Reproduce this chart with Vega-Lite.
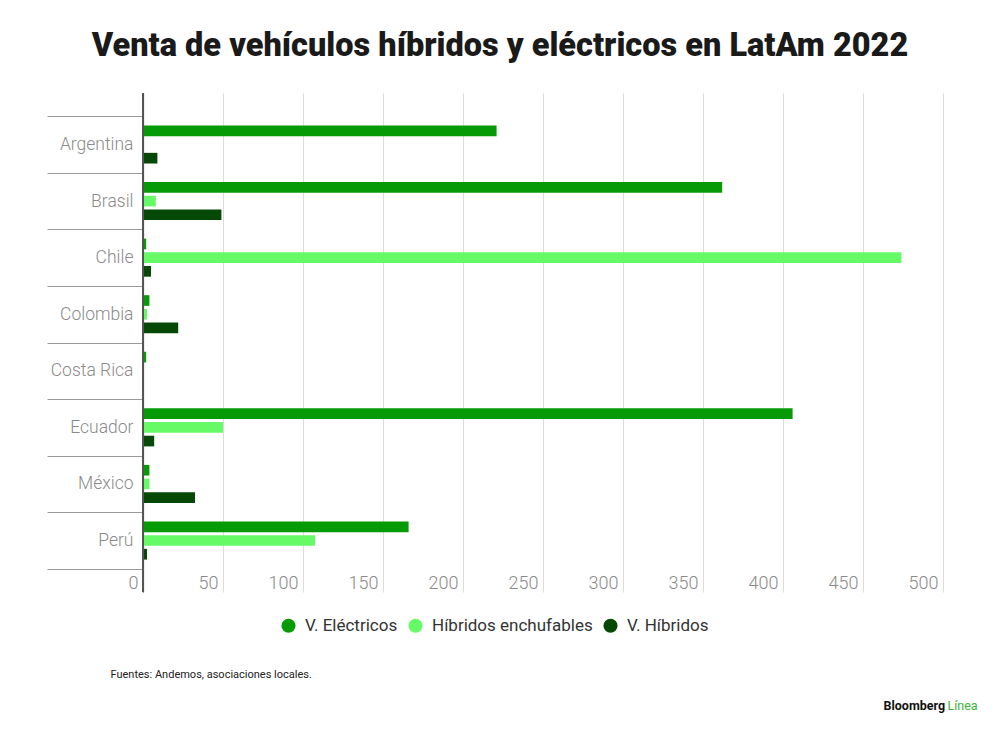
{
  "$schema": "https://vega.github.io/schema/vega-lite/v6.json",
  "autosize": "none",
  "width": 800,
  "height": 499,
  "padding": {"left": 143, "top": 93, "right": 57, "bottom": 142},
  "background": "white",
  "title": {
    "text": "Venta de vehículos híbridos y eléctricos en LatAm 2022",
    "font": "Roboto",
    "fontSize": 32.5,
    "fontWeight": 900,
    "color": "#1a1a1a",
    "anchor": "middle",
    "frame": "group",
    "dx": -43,
    "dy": 42,
    "baseline": "alphabetic",
    "offset": 38
  },
  "data": {
    "values": [
      {"pais": "Argentina", "tipo": "V. Eléctricos", "valor": 221},
      {"pais": "Argentina", "tipo": "V. Híbridos", "valor": 9},
      {"pais": "Brasil", "tipo": "V. Eléctricos", "valor": 362},
      {"pais": "Brasil", "tipo": "Híbridos enchufables", "valor": 8},
      {"pais": "Brasil", "tipo": "V. Híbridos", "valor": 49},
      {"pais": "Chile", "tipo": "V. Eléctricos", "valor": 2},
      {"pais": "Chile", "tipo": "Híbridos enchufables", "valor": 474},
      {"pais": "Chile", "tipo": "V. Híbridos", "valor": 5},
      {"pais": "Colombia", "tipo": "V. Eléctricos", "valor": 4},
      {"pais": "Colombia", "tipo": "Híbridos enchufables", "valor": 2.5},
      {"pais": "Colombia", "tipo": "V. Híbridos", "valor": 22},
      {"pais": "Costa Rica", "tipo": "V. Eléctricos", "valor": 2},
      {"pais": "Ecuador", "tipo": "V. Eléctricos", "valor": 406},
      {"pais": "Ecuador", "tipo": "Híbridos enchufables", "valor": 50},
      {"pais": "Ecuador", "tipo": "V. Híbridos", "valor": 7},
      {"pais": "México", "tipo": "V. Eléctricos", "valor": 4},
      {"pais": "México", "tipo": "Híbridos enchufables", "valor": 4},
      {"pais": "México", "tipo": "V. Híbridos", "valor": 32.5},
      {"pais": "Perú", "tipo": "V. Eléctricos", "valor": 166},
      {"pais": "Perú", "tipo": "Híbridos enchufables", "valor": 107.5},
      {"pais": "Perú", "tipo": "V. Híbridos", "valor": 2.5}
    ]
  },
  "layer": [
    {
      "mark": {"type": "bar"},
      "encoding": {
        "y": {
          "field": "pais",
          "type": "nominal",
          "sort": ["Argentina", "Brasil", "Chile", "Colombia", "Costa Rica", "Ecuador", "México", "Perú"],
          "scale": {"paddingInner": 0, "paddingOuter": 0.41},
          "axis": {
            "title": "Bloomberg",
            "titleAngle": 0,
            "titleX": 740,
            "titleY": 616,
            "titleAlign": "left",
            "titleBaseline": "alphabetic",
            "titleFont": "Roboto",
            "titleFontSize": 12.5,
            "titleFontWeight": "bold",
            "titleColor": "#111111",
            "domain": true,
            "domainColor": "#555555",
            "domainWidth": 1.2,
            "ticks": true,
            "tickBand": "extent",
            "tickSize": 96,
            "tickColor": "#9a9a9a",
            "tickWidth": 1,
            "labelPadding": -86,
            "labelFont": "Roboto",
            "labelFontSize": 17.5,
            "labelFontWeight": 300,
            "labelColor": "#8a8a8a"
          }
        },
        "yOffset": {
          "field": "tipo",
          "type": "nominal",
          "scale": {
            "domain": ["V. Eléctricos", "Híbridos enchufables", "V. Híbridos"],
            "paddingInner": 0.22,
            "paddingOuter": 0.675
          }
        },
        "x": {
          "field": "valor",
          "type": "quantitative",
          "scale": {"domain": [0, 500], "nice": false},
          "axis": {
            "title": "Fuentes: Andemos, asociaciones locales.",
            "titleAnchor": "start",
            "titleAlign": "left",
            "titleX": -33,
            "titleY": 85,
            "titleBaseline": "alphabetic",
            "titleFont": "Roboto",
            "titleFontSize": 11,
            "titleFontWeight": "normal",
            "titleColor": "#222222",
            "values": [0, 50, 100, 150, 200, 250, 300, 350, 400, 450, 500],
            "domain": false,
            "ticks": false,
            "tickSize": 0,
            "grid": true,
            "gridColor": "#dcdcdc",
            "gridWidth": 1,
            "labelAlign": "right",
            "labelOffset": -5,
            "labelBaseline": "alphabetic",
            "labelPadding": -4,
            "labelFont": "Roboto",
            "labelFontSize": 18,
            "labelFontWeight": 300,
            "labelColor": "#8a8a8a",
            "labelFlush": false
          }
        },
        "color": {
          "field": "tipo",
          "type": "nominal",
          "scale": {
            "domain": ["V. Eléctricos", "Híbridos enchufables", "V. Híbridos"],
            "range": ["#079a07", "#66fb66", "#064806"]
          },
          "legend": {
            "title": null,
            "orient": "none",
            "direction": "horizontal",
            "legendX": 137,
            "legendY": 524,
            "symbolType": "circle",
            "symbolSize": 200,
            "symbolStrokeWidth": 0,
            "symbolOpacity": 1,
            "labelFont": "Roboto",
            "labelFontSize": 17,
            "labelColor": "#333333",
            "labelOffset": 8,
            "labelLimit": 400,
            "columnPadding": 9
          }
        }
      }
    },
    {
      "mark": {"type": "rule", "color": "#555555", "strokeWidth": 1.2},
      "encoding": {
        "x": {
          "datum": 0,
          "type": "quantitative",
          "axis": {
            "orient": "top",
            "title": "Línea",
            "titleAnchor": "start",
            "titleAlign": "left",
            "titleX": 804,
            "titleY": 616,
            "titleBaseline": "alphabetic",
            "titleFont": "Roboto",
            "titleFontSize": 12.5,
            "titleFontWeight": "normal",
            "titleColor": "#3bb33b",
            "labels": false,
            "ticks": false,
            "domain": false,
            "grid": false
          }
        }
      }
    }
  ],
  "resolve": {"axis": {"x": "independent"}},
  "config": {
    "view": {"stroke": null},
    "font": "Roboto"
  }
}
